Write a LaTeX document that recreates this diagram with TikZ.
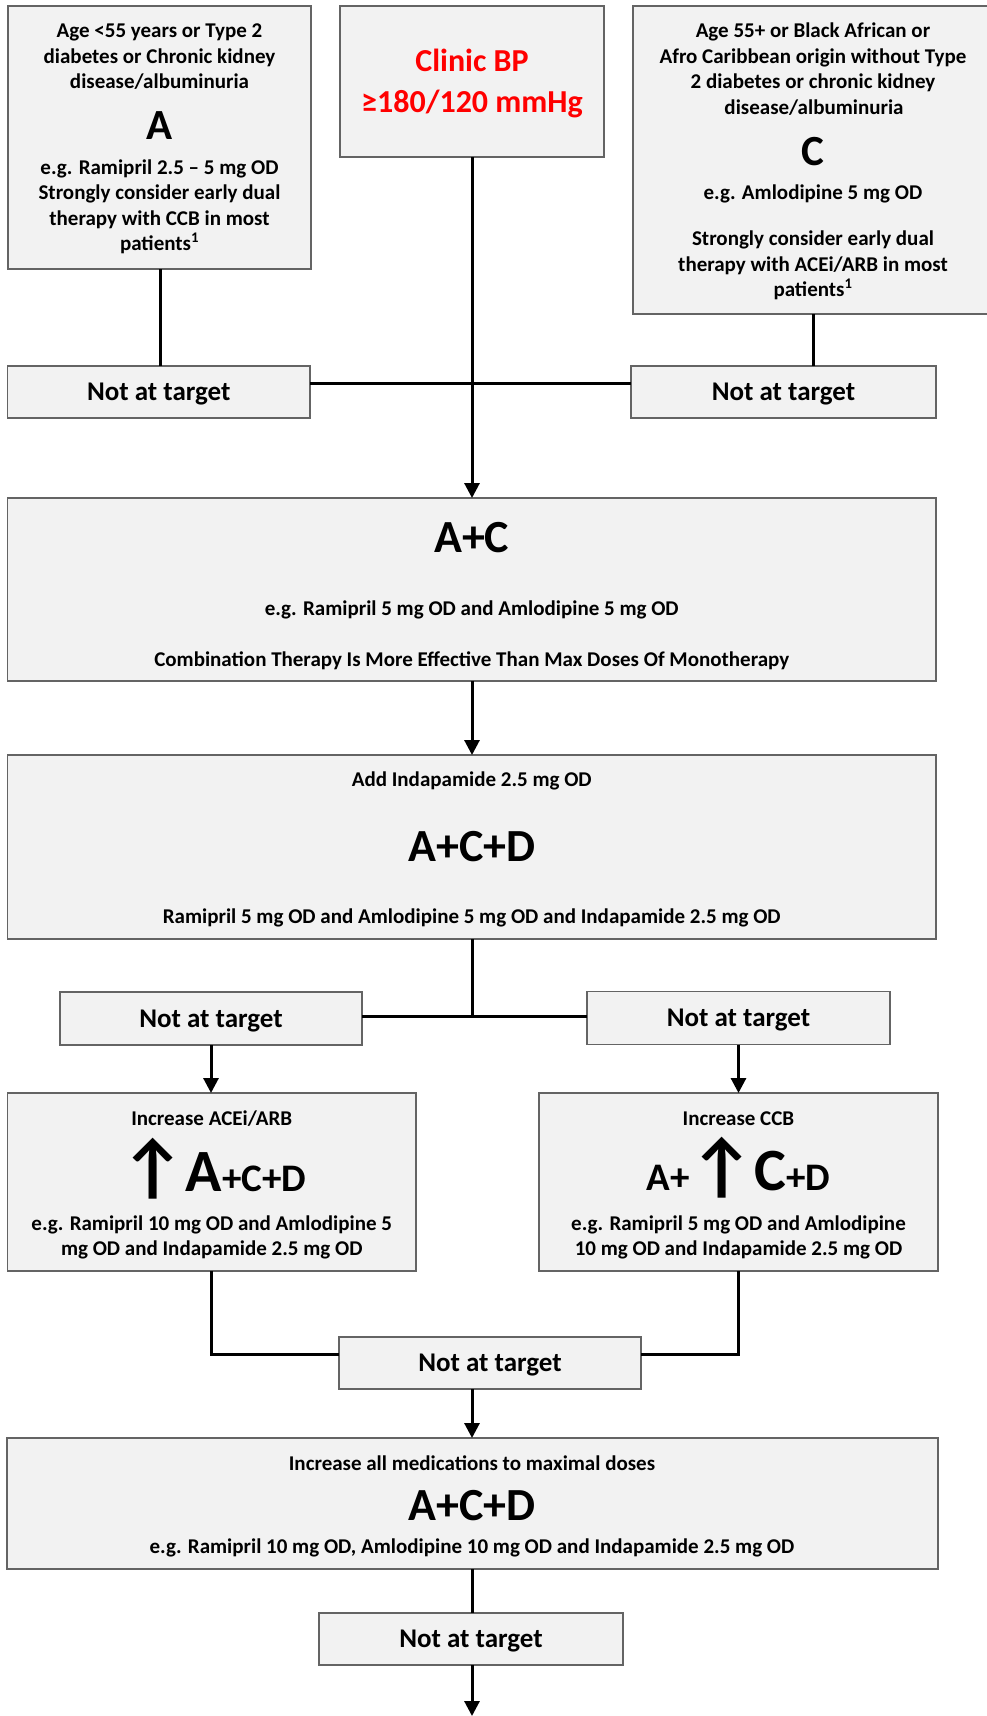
\documentclass[tikz,border=0pt]{standalone}
\usepackage{fontspec}
\setmainfont{Carlito}
\usetikzlibrary{arrows.meta}
\definecolor{boxfill}{HTML}{F2F2F2}
\definecolor{boxline}{HTML}{646464}
\definecolor{bpred}{HTML}{FF0000}
\newcommand{\bigsz}{\fontsize{60}{60}\selectfont}
\newcommand{\midsz}{\fontsize{39}{39}\selectfont}
\newcommand{\uparr}{{\fontsize{72}{72}\selectfont ↑}}
\begin{document}
\begin{tikzpicture}[x=1pt,y=-1pt,
  box/.style={draw=boxline, fill=boxfill, line width=1.3pt, inner sep=0pt, outer sep=0pt},
  txt/.style={inner sep=0pt, anchor=base, font=\bfseries\fontsize{21}{25.6}\selectfont},
  nattxt/.style={inner sep=0pt, anchor=base, font=\bfseries\fontsize{27}{32}\selectfont},
  bigtxt/.style={inner sep=0pt, anchor=base, font=\bfseries\fontsize{43}{43}\selectfont},
  combotxt/.style={inner sep=0pt, anchor=base, font=\bfseries\fontsize{46}{46}\selectfont},
  bptxt/.style={inner sep=0pt, anchor=base, text=bpred, font=\bfseries\fontsize{32}{38}\selectfont},
  conn/.style={line width=3pt, black},
  arr/.style={conn, -{Triangle[width=15pt,length=15pt]}},
]
\useasboundingbox (0,0) rectangle (986,1716);

% ---------- boxes ----------
\node[box, minimum width=303pt, minimum height=263pt] (boxA) at (159.5,137.5) {};
\node[box, minimum width=264pt, minimum height=151pt] (boxBP) at (472,81.5) {};
\node[box, minimum width=360pt, minimum height=308pt] (boxC) at (813,160) {};
\node[box, minimum width=302.5pt, minimum height=52pt] (natL) at (158.75,392) {};
\node[box, minimum width=305pt, minimum height=52pt] (natR) at (783.5,392) {};
\node[box, minimum width=928.5pt, minimum height=183pt] (AC) at (471.75,589.5) {};
\node[box, minimum width=928.5pt, minimum height=184pt] (ACD) at (471.75,847) {};
\node[box, minimum width=302pt, minimum height=53pt] (natL2) at (211,1018.5) {};
\node[box, minimum width=303pt, minimum height=53pt] (natR2) at (738.5,1018) {};
\node[box, minimum width=408.5pt, minimum height=178pt] (incA) at (211.75,1182) {};
\node[box, minimum width=399pt, minimum height=178pt] (incC) at (738.5,1182) {};
\node[box, minimum width=302pt, minimum height=52pt] (nat3) at (490,1363) {};
\node[box, minimum width=931pt, minimum height=131pt] (fin) at (472.5,1503.5) {};
\node[box, minimum width=304pt, minimum height=52pt] (nat4) at (471,1639) {};

% ---------- texts ----------
\node[txt] (a1) at (159.5,37.5) {Age <55 years or Type 2};
\node[txt] (a2) at (159.5,63) {diabetes or Chronic kidney};
\node[txt] (a3) at (159.5,88.5) {disease/albuminuria};
\node[bigtxt] (a4) at (159.5,139) {A};
\node[txt] (a5) at (159.5,174) {e.g. Ramipril 2.5 – 5 mg OD};
\node[txt] (a6) at (159.5,199.5) {Strongly consider early dual};
\node[txt] (a7) at (159.5,225) {therapy with CCB in most};
\node[txt] (a8) at (159.5,250.5) {patients\textsuperscript{1}};

\node[bptxt] (bp1) at (472,71.7) {Clinic BP};
\node[bptxt] (bp2) at (472,112) {≥180/120 mmHg};

\node[txt] (c1) at (813,37.5) {Age 55+ or Black African or};
\node[txt] (c2) at (813,63) {Afro Caribbean origin without Type};
\node[txt] (c3) at (813,88.5) {2 diabetes or chronic kidney};
\node[txt] (c4) at (814,114.5) {disease/albuminuria};
\node[bigtxt] (c5) at (813,165.5) {C};
\node[txt] (c6) at (813,199.5) {e.g. Amlodipine 5 mg OD};
\node[txt] (c7) at (813,245) {Strongly consider early dual};
\node[txt] (c8) at (813,271) {therapy with ACEi/ARB in most};
\node[txt] (c9) at (813,296.5) {patients\textsuperscript{1}};

\node[nattxt] (tL) at (158.75,400.5) {Not at target};
\node[nattxt] (tR) at (783.5,400.5) {Not at target};

\node[combotxt] (ac1) at (471.75,552.7) {A+C};
\node[txt] (ac2) at (471.75,615) {e.g. Ramipril 5 mg OD and Amlodipine 5 mg OD};
\node[txt] (ac3) at (471.75,666) {Combination Therapy Is More Effective Than Max Doses Of Monotherapy};

\node[txt] (acd1) at (471.75,786) {Add Indapamide 2.5 mg OD};
\node[combotxt] (acd2) at (471.75,861.5) {A+C+D};
\node[txt] (acd3) at (471.75,923.5) {Ramipril 5 mg OD and Amlodipine 5 mg OD and Indapamide 2.5 mg OD};

\node[nattxt] (tL2) at (211,1027) {Not at target};
\node[nattxt] (tR2) at (738.5,1026.5) {Not at target};

\node[txt] (ia1) at (211.75,1125) {Increase ACEi/ARB};
\node[txt, font=\bfseries] (ia2) at (213.5,1191) {\uparr{\bigsz A}{\midsz +C+D}};
\node[txt] (ia3) at (211.75,1230) {e.g. Ramipril 10 mg OD and Amlodipine 5};
\node[txt] (ia4) at (211.75,1255.8) {mg OD and Indapamide 2.5 mg OD};

\node[txt] (ic1) at (738.5,1125) {Increase CCB};
\node[txt, font=\bfseries] (ic2) at (738.5,1190.5) {{\midsz A+}\uparr{\bigsz C}{\midsz +D}};
\node[txt] (ic3) at (738.5,1230) {e.g. Ramipril 5 mg OD and Amlodipine};
\node[txt] (ic4) at (738.5,1255.8) {10 mg OD and Indapamide 2.5 mg OD};

\node[nattxt] (t3) at (490,1371.5) {Not at target};

\node[txt] (f1) at (472,1470) {Increase all medications to maximal doses};
\node[combotxt] (f2) at (472,1520) {A+C+D};
\node[txt] (f3) at (472,1553.5) {e.g. Ramipril 10 mg OD, Amlodipine 10 mg OD and Indapamide 2.5 mg OD};

\node[nattxt] (t4) at (471,1647.5) {Not at target};

% ---------- connectors ----------
\coordinate (j1) at (472,383.5);
\coordinate (j2) at (472,1016);
\coordinate (j3) at (490,1354);
\coordinate (endpt) at (472,1716);
\draw[conn] (boxA.south -| 160,0) -- (natL.north -| 160,0);
\draw[conn] (boxC.south) -- (boxC.south |- natR.north);
\draw[arr] (boxBP.south) -- (boxBP.south |- AC.north);
\draw[conn] (natL.east |- j1) -- (j1) -- (natR.west |- j1);
\draw[arr] (AC.south -| j1) -- (ACD.north -| j1);
\draw[conn] (ACD.south -| j2) -- (j2);
\draw[conn] (natL2.east |- j2) -- (natR2.west |- j2);
\draw[arr] (natL2.south) -- (natL2.south |- incA.north);
\draw[arr] (natR2.south) -- (natR2.south |- incC.north);
\draw[conn] (incA.south -| natL2.south) |- (nat3.west |- j3);
\draw[conn] (incC.south -| natR2.south) |- (nat3.east |- j3);
\draw[arr] (nat3.south -| j1) -- (fin.north -| j1);
\draw[conn] (fin.south -| j1) -- (nat4.north -| j1);
\draw[arr] (nat4.south -| j1) -- (endpt);
\end{tikzpicture}
\end{document}
